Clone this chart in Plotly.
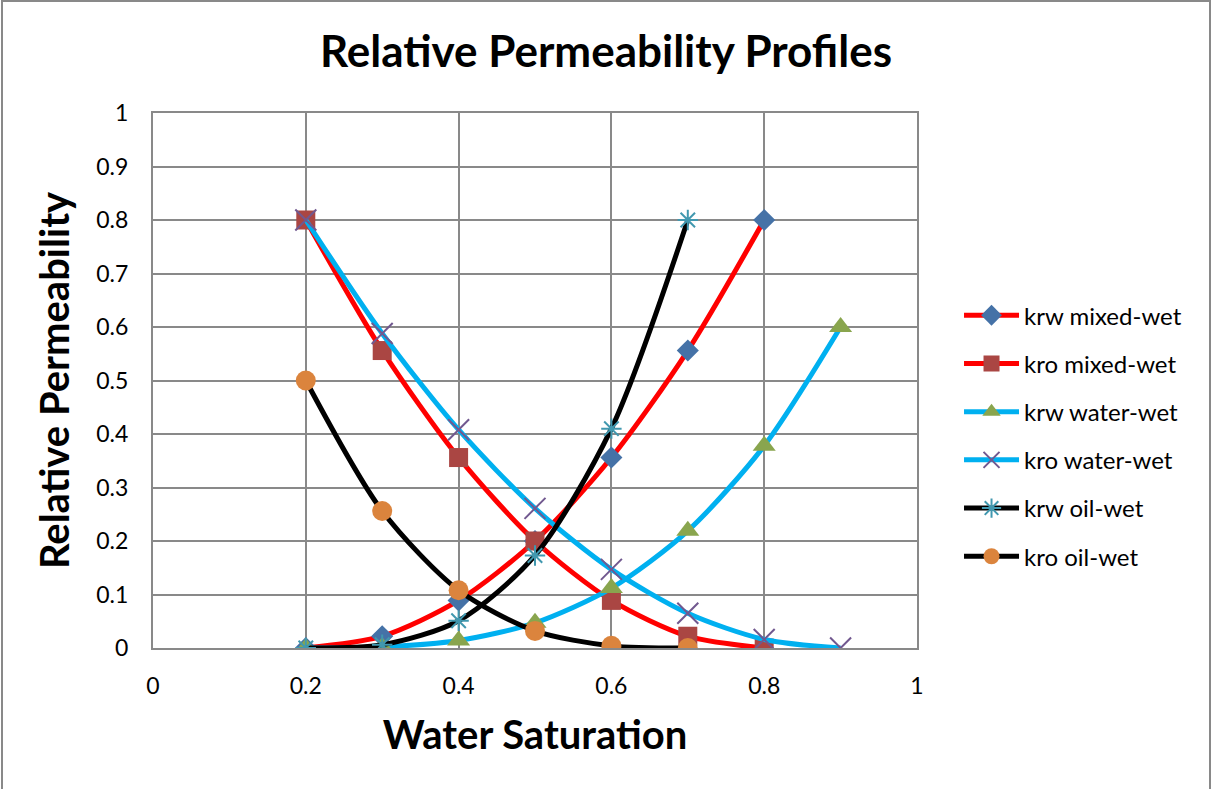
import plotly.graph_objects as go

sw_mixed = [0.2, 0.3, 0.4, 0.5, 0.6, 0.7, 0.8]
krw_mixed = [0.0, 0.022, 0.089, 0.2, 0.356, 0.556, 0.8]
kro_mixed = [0.8, 0.556, 0.356, 0.2, 0.089, 0.022, 0.0]

sw_water = [0.2, 0.3, 0.4, 0.5, 0.6, 0.7, 0.8, 0.9]
krw_water = [0.0, 0.002, 0.014, 0.047, 0.112, 0.219, 0.378, 0.6]
kro_water = [0.8, 0.588, 0.408, 0.261, 0.147, 0.065, 0.016, 0.0]

sw_oil = [0.2, 0.3, 0.4, 0.5, 0.6, 0.7]
krw_oil = [0.0, 0.006, 0.051, 0.173, 0.41, 0.8]
kro_oil = [0.5, 0.256, 0.108, 0.032, 0.004, 0.0]

series = [
    ("krw mixed-wet", sw_mixed, krw_mixed, "#FF0000", dict(symbol="diamond", size=17, color="#4572A7")),
    ("kro mixed-wet", sw_mixed, kro_mixed, "#FF0000", dict(symbol="square", size=19, color="#AA4643")),
    ("krw water-wet", sw_water, krw_water, "#00B0F0", dict(symbol="triangle-up", size=20, color="#89A54E")),
    ("kro water-wet", sw_water, kro_water, "#00B0F0", dict(symbol="x-thin-open", size=21, color="#71588F", line=dict(width=2, color="#71588F"))),
    ("krw oil-wet", sw_oil, krw_oil, "#000000", dict(symbol="asterisk-open", size=17, color="#4198AF", line=dict(width=2, color="#4198AF"))),
    ("kro oil-wet", sw_oil, kro_oil, "#000000", dict(symbol="circle", size=20, color="#DB843D")),
]

FONT = "Lato"
fig = go.Figure()
for i, (name, x, y, lc, mk) in enumerate(series):
    fig.add_trace(go.Scatter(
        x=x, y=y, name=name, mode="lines+markers",
        line=dict(color=lc, width=5, shape="spline", smoothing=0.8),
        marker=mk, legendgroup=f"g{i}",
    ))

fig.update_layout(
    width=1212, height=789,
    margin=dict(l=153, r=295, t=113, b=141),
    paper_bgcolor="white", plot_bgcolor="white",
    font=dict(family=FONT, color="#000000", size=23),
    title=dict(text="<b>Relative Permeability Profiles</b>", x=0.5, xanchor="center",
               y=0.934, yanchor="middle", font=dict(size=44, family=FONT)),
    showlegend=True,
    legend=dict(x=1.055, y=0.396, xanchor="left", yanchor="middle",
                font=dict(size=24, family=FONT), traceorder="grouped",
                tracegroupgap=14, itemwidth=55, bgcolor="rgba(0,0,0,0)"),
    xaxis=dict(range=[0, 1], dtick=0.2, tick0=0, showgrid=True, gridcolor="#898989", gridwidth=2,
               showline=True, linecolor="#898989", linewidth=2, mirror=True, zeroline=False,
               ticks="", tickfont=dict(size=23), ticklabelstandoff=16,
               title=dict(text="<b>Water Saturation</b>", font=dict(size=40), standoff=23)),
    yaxis=dict(range=[0, 1], dtick=0.1, tick0=0, showgrid=True, gridcolor="#898989", gridwidth=2,
               showline=True, linecolor="#898989", linewidth=2, mirror=True, zeroline=False,
               ticks="", tickfont=dict(size=23), ticklabelstandoff=18,
               title=dict(text="<b>Relative Permeability</b>", font=dict(size=40), standoff=14)),
    shapes=[dict(type="rect", xref="paper", yref="paper",
                 x0=-151 / 764, x1=1057 / 764, y0=-145 / 535, y1=112 / 535 + 1,
                 line=dict(color="#898989", width=2), fillcolor="rgba(0,0,0,0)", layer="below")],
)

fig.write_html("out.html")
